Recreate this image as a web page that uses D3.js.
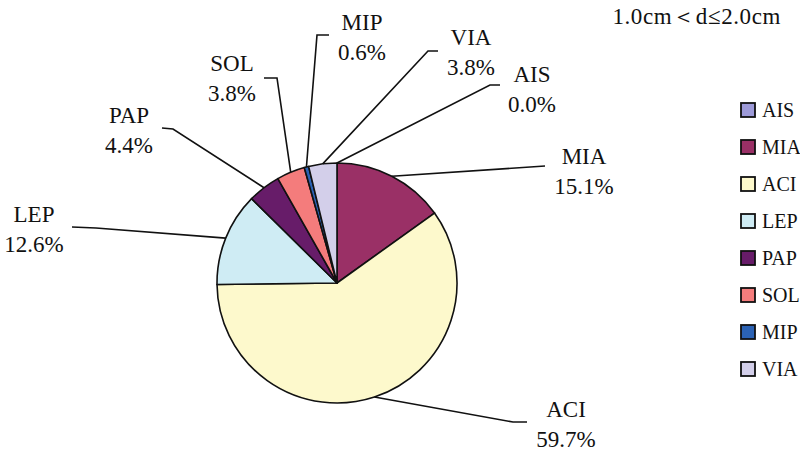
<!DOCTYPE html>
<html lang="en">
<head>
    <meta charset="UTF-8">
    <title>Pie 1.0cm-2.0cm</title>
    <script src="https://d3js.org/d3.v7.min.js"></script>
    <style>
        body { margin: 0; background: #fff; }
        text { font-family: "Liberation Serif", "DejaVu Serif", serif; fill: #111; }
    </style>
</head>
<body>
<div id="chart"></div>
<script>
    // Data
    const categories = ["AIS", "MIA", "ACI", "LEP", "PAP", "SOL", "MIP", "VIA"];
    const percents = [0.0, 15.1, 59.7, 12.6, 4.4, 3.8, 0.6, 3.8];
    const colors = ["#9d9ad8", "#9a3066", "#fdf9cc", "#cfecf4", "#671c69", "#f47c7c", "#2b62b4", "#d3cfea"];
    const title = "1.0cm\uFF1Cd\u22642.0cm";

    // Label placement (layout only): elbow point, end point, text centre, first baseline
    const labelLayout = [
        { elbow: [490, 85],  end: [500, 85],  tx: 532, ty: 82 },
        { elbow: [545, 166], end: [545, 166], tx: 584, ty: 164 },
        { elbow: [513, 422], end: [527, 422], tx: 566, ty: 417 },
        { elbow: [96, 228],  end: [72, 227],  tx: 34,  ty: 222 },
        { elbow: [173, 129], end: [162, 128], tx: 129, ty: 123 },
        { elbow: [277, 78],  end: [264, 78],  tx: 232, ty: 71 },
        { elbow: [317, 35],  end: [329, 35],  tx: 362, ty: 30 },
        { elbow: [428, 51],  end: [438, 51],  tx: 471, ty: 45 }
    ];

    const width = 800, height = 452;
    const cx = 337, cy = 283, radius = 120;

    const svg = d3.select("#chart").append("svg")
        .attr("width", width)
        .attr("height", height);

    const rows = categories.map((c, i) => ({ name: c, value: percents[i], color: colors[i], layout: labelLayout[i] }));

    const pie = d3.pie().sort(null).value(d => d.value);
    const arc = d3.arc().innerRadius(0).outerRadius(radius);
    const arcs = pie(rows);

    const g = svg.append("g").attr("transform", `translate(${cx},${cy})`);

    g.selectAll("path")
        .data(arcs.filter(d => d.data.value > 0))
        .enter().append("path")
        .attr("d", arc)
        .attr("fill", d => d.data.color)
        .attr("stroke", "#111")
        .attr("stroke-width", 1.6)
        .attr("stroke-linejoin", "round");

    // Leader lines: from slice edge midpoint to label
    svg.append("g").selectAll("polyline")
        .data(arcs)
        .enter().append("polyline")
        .attr("points", d => {
            const a = (d.startAngle + d.endAngle) / 2;
            const x0 = cx + radius * Math.sin(a), y0 = cy - radius * Math.cos(a);
            const L = d.data.layout;
            return [[x0, y0], L.elbow, L.end].map(p => p.join(",")).join(" ");
        })
        .attr("fill", "none")
        .attr("stroke", "#111")
        .attr("stroke-width", 1.6);

    // Labels
    const labels = svg.append("g").selectAll("g")
        .data(arcs)
        .enter().append("g");

    labels.append("text")
        .attr("x", d => d.data.layout.tx)
        .attr("y", d => d.data.layout.ty)
        .attr("text-anchor", "middle")
        .attr("font-size", 23)
        .text(d => d.data.name);

    labels.append("text")
        .attr("x", d => d.data.layout.tx)
        .attr("y", d => d.data.layout.ty + 30)
        .attr("text-anchor", "middle")
        .attr("font-size", 23)
        .text(d => d.data.value.toFixed(1) + "%");

    // Title
    svg.append("text")
        .attr("x", 781)
        .attr("y", 24)
        .attr("text-anchor", "end")
        .attr("font-size", 23)
        .attr("letter-spacing", 0.6)
        .text(title);

    // Legend
    const legendY = d3.scalePoint().domain(categories).range([110, 369]);
    const legend = svg.append("g").selectAll("g")
        .data(rows)
        .enter().append("g")
        .attr("transform", d => `translate(741,${legendY(d.name)})`);

    legend.append("rect")
        .attr("x", 0)
        .attr("y", -7)
        .attr("width", 14)
        .attr("height", 14)
        .attr("fill", d => d.color)
        .attr("stroke", "#111")
        .attr("stroke-width", 1.8);

    legend.append("text")
        .attr("x", 21)
        .attr("y", 7)
        .attr("font-size", 20)
        .text(d => d.name);
</script>
</body>
</html>
